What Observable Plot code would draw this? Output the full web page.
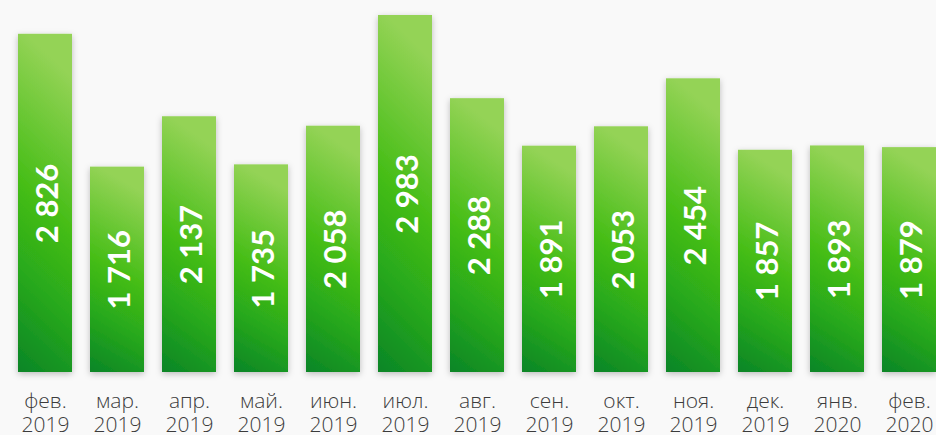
<!DOCTYPE html>
<html>
<head>
<meta charset="utf-8">
<script src="https://cdn.jsdelivr.net/npm/d3@7"></script>
<script src="https://cdn.jsdelivr.net/npm/@observablehq/plot@0.6"></script>
<style>
  html, body { margin: 0; padding: 0; background: #f9f9f9; }
</style>
</head>
<body>
<div id="chart"></div>
<script>
const months = ["фев.", "мар.", "апр.", "май.", "июн.", "июл.", "авг.", "сен.", "окт.", "ноя.", "дек.", "янв.", "фев."];
const years = ["2019", "2019", "2019", "2019", "2019", "2019", "2019", "2019", "2019", "2019", "2019", "2020", "2020"];
const values = [2826, 1716, 2137, 1735, 2058, 2983, 2288, 1891, 2053, 2454, 1857, 1893, 1879];

const data = months.map((m, i) => ({key: i, month: m, year: years[i], value: values[i]}));
const fmt = v => d3.format(",")(v).replace(/,/g, " ");

const plot = Plot.plot({
  width: 936,
  height: 435,
  marginLeft: 0, marginRight: 0, marginTop: 0, marginBottom: 0,
  style: {background: "#f9f9f9"},
  x: {domain: data.map(d => d.key), range: [9, 945], paddingInner: 0.25, paddingOuter: 0.125, axis: null},
  y: {domain: [0, 2983], range: [372, 15], axis: null},
  marks: [
    Plot.barY(data, {x: "key", y: "value", fill: "url(#barGrad)"}),
    Plot.text(data, {
      x: "key", y: d => d.value / 2, text: d => fmt(d.value),
      rotate: -90, fill: "white", fontSize: 31, fontWeight: "bold",
      fontFamily: "Lato, 'Open Sans', sans-serif", dx: 3
    }),
    Plot.text(data, {
      x: "key", y: 0, text: "month", lineAnchor: "bottom", dy: 35,
      fontSize: 21, fill: "#3c3c3c", fontWeight: 300,
      fontFamily: "'Open Sans', Lato, sans-serif"
    }),
    Plot.text(data, {
      x: "key", y: 0, text: "year", lineAnchor: "bottom", dy: 59,
      fontSize: 21, fill: "#3c3c3c", fontWeight: 300,
      fontFamily: "'Open Sans', Lato, sans-serif"
    })
  ]
});

const svg = d3.select(plot);
svg.insert("defs", ":first-child").html(`
  <linearGradient id="barGrad" x1="0" y1="1" x2="0.15" y2="0">
    <stop offset="0" stop-color="#0a8527"/>
    <stop offset="0.3" stop-color="#28a91b"/>
    <stop offset="0.55" stop-color="#45bd16"/>
    <stop offset="1" stop-color="#94d356"/>
  </linearGradient>
  <filter id="barShadow" x="-30%" y="-10%" width="160%" height="120%">
    <feDropShadow dx="0" dy="2" stdDeviation="3" flood-color="#000" flood-opacity="0.25"/>
  </filter>
`);
svg.select('g[aria-label="bar"]').attr("filter", "url(#barShadow)");

document.getElementById("chart").appendChild(plot);
</script>
</body>
</html>
